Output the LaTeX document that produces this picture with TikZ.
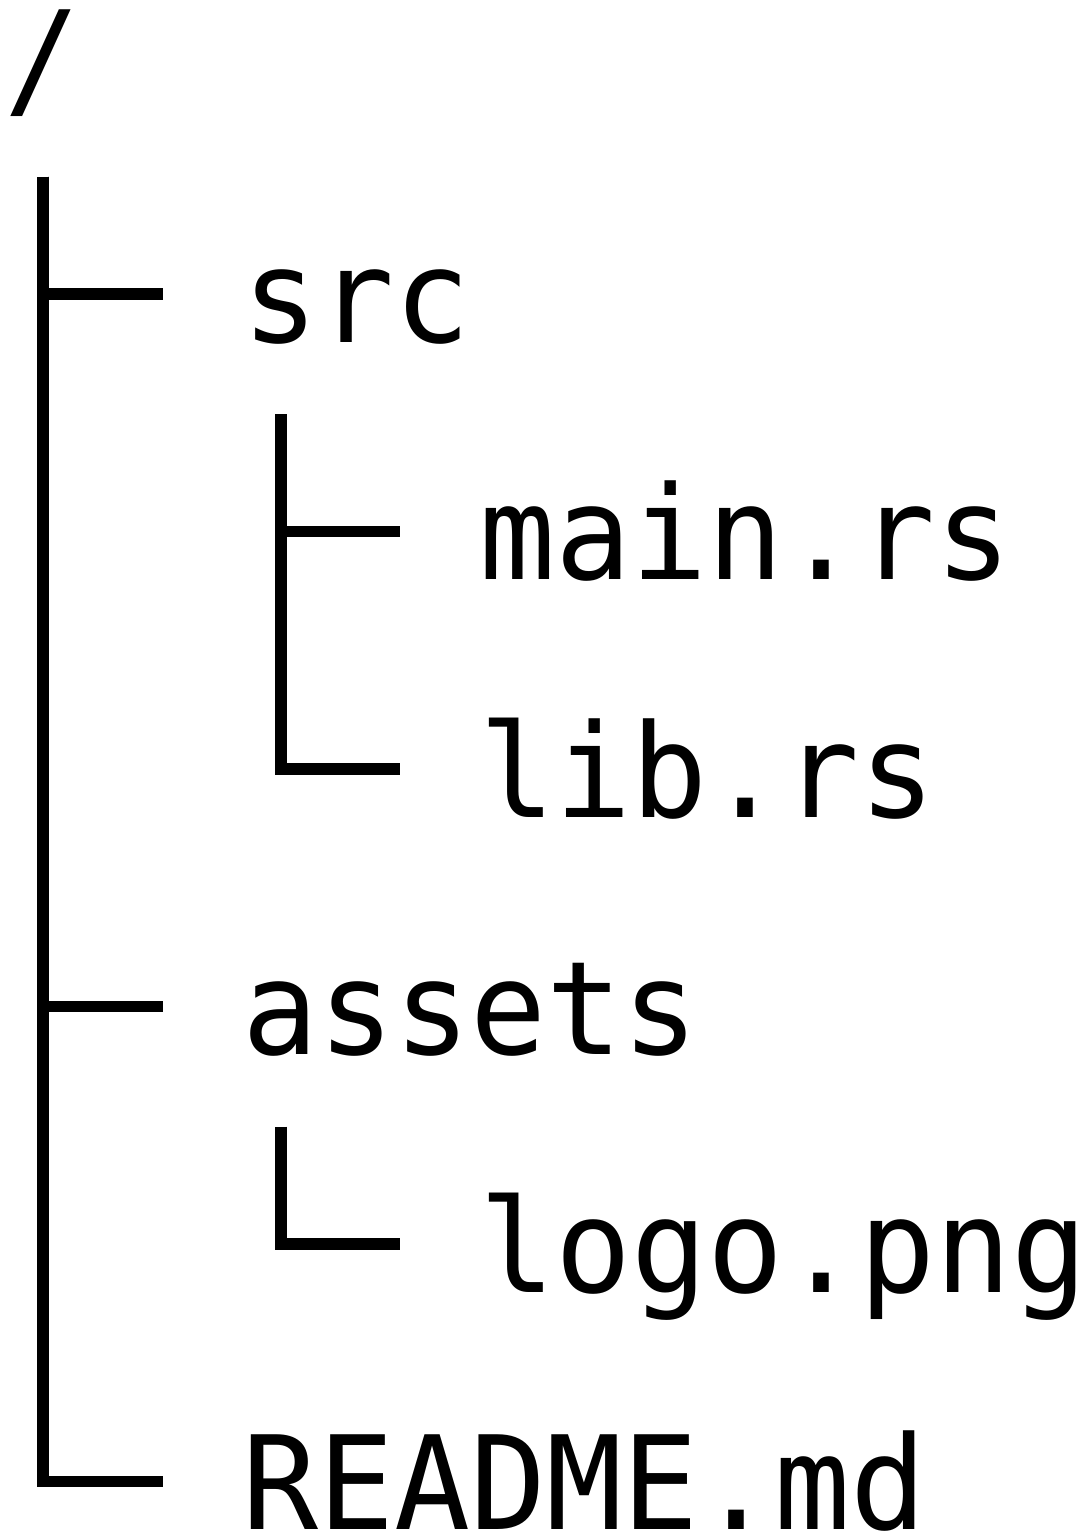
\documentclass[tikz,border=0pt]{standalone}
\usepackage{fontspec}
\setmonofont[FakeStretch=0.972]{DejaVu Sans Mono}
\usetikzlibrary{calc}

\tikzset{
  entry/.style={anchor=base west, inner sep=0pt, outer sep=0pt,
    font=\ttfamily\fontsize{65pt}{65pt}\selectfont},
  branch/.style={line width=5.8pt},
}

\begin{document}
\begin{tikzpicture}[x=0.5pt,y=-0.5pt]
\useasboundingbox (0,0) rectangle (1091,1533);

\node[entry] (root) at (4,104.5) {/};
\node[entry] (src) at (242,342) {src};
\node[entry] (main) at (479,579.5) {main.rs};
\node[entry] (lib) at (479,817) {lib.rs};
\node[entry] (assets) at (242,1054.5) {assets};
\node[entry] (logo) at (479,1292) {logo.png};
\node[entry] (readme) at (242,1529.5) {README.md};

% stems under the folders
\coordinate (root-stem) at ($(root.base west)+(39,72)$);
\coordinate (src-stem) at ($(src.base west)+(39,72)$);
\coordinate (assets-stem) at ($(assets.base west)+(39,72)$);

% tips in front of the entries
\coordinate (src-tip) at ($(src.base west)+(-79,-48)$);
\coordinate (main-tip) at ($(main.base west)+(-79,-48)$);
\coordinate (lib-tip) at ($(lib.base west)+(-79,-48)$);
\coordinate (assets-tip) at ($(assets.base west)+(-79,-48)$);
\coordinate (logo-tip) at ($(logo.base west)+(-79,-48)$);
\coordinate (readme-tip) at ($(readme.base west)+(-79,-48)$);

\draw[branch] (root-stem) |- (src-tip);
\draw[branch] (root-stem) |- (assets-tip);
\draw[branch] (root-stem) |- (readme-tip);

\draw[branch] (src-stem) |- (main-tip);
\draw[branch] (src-stem) |- (lib-tip);

\draw[branch] (assets-stem) |- (logo-tip);
\end{tikzpicture}
\end{document}
